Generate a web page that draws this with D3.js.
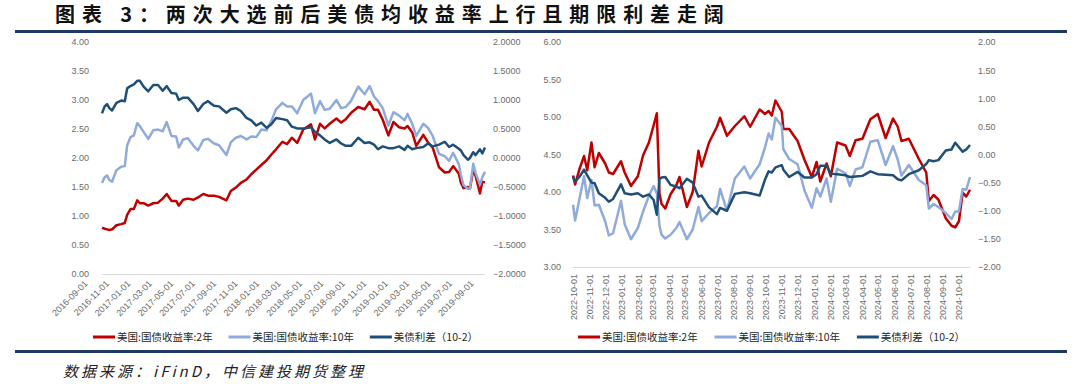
<!DOCTYPE html>
<html>
<head>
<meta charset="utf-8">
<script src="https://cdn.jsdelivr.net/npm/d3@7"></script>
<style>
  body { margin: 0; background: #fff; }
  svg { display: block; }
</style>
</head>
<body>
<script>
// ---- data ----
const seriesNames = ["美国:国债收益率:2年", "美国:国债收益率:10年", "美债利差（10-2）"];
const seriesColors = ["#C00000", "#8FAADC", "#1F4E79"];

// 2016 election window
const leftDates = [
  "2016-09-01","2016-09-09","2016-09-16","2016-09-23","2016-10-01","2016-10-14","2016-10-28","2016-11-08","2016-11-15","2016-11-25",
  "2016-12-05","2016-12-15","2016-12-23","2017-01-03","2017-01-17","2017-02-01","2017-02-15","2017-03-01","2017-03-13","2017-03-27",
  "2017-04-10","2017-04-18","2017-05-01","2017-05-15","2017-06-01","2017-06-14","2017-06-30","2017-07-14","2017-08-01","2017-08-16",
  "2017-09-07","2017-09-20","2017-10-05","2017-10-20","2017-11-06","2017-11-20","2017-12-05","2017-12-20","2018-01-05","2018-01-19",
  "2018-02-02","2018-02-21","2018-03-07","2018-03-21","2018-04-06","2018-04-24","2018-05-17","2018-05-29","2018-06-13","2018-06-27",
  "2018-07-12","2018-08-01","2018-08-15","2018-08-29","2018-09-14","2018-10-05","2018-10-24","2018-11-08","2018-11-21","2018-12-03",
  "2018-12-17","2019-01-03","2019-01-18","2019-02-04","2019-02-20","2019-03-01","2019-03-15","2019-03-27","2019-04-17","2019-05-01",
  "2019-05-15","2019-06-03","2019-06-20","2019-07-03","2019-07-15","2019-08-01","2019-08-07","2019-08-15","2019-08-28","2019-09-03",
  "2019-09-13","2019-09-20","2019-10-03","2019-10-10","2019-10-18"
];
const left2y = [
  0.80,0.78,0.77,0.76,0.77,0.84,0.86,0.88,1.02,1.12,
  1.12,1.27,1.22,1.22,1.18,1.22,1.23,1.30,1.38,1.26,
  1.26,1.18,1.28,1.30,1.28,1.32,1.38,1.35,1.35,1.33,
  1.27,1.43,1.49,1.57,1.63,1.72,1.80,1.88,1.96,2.06,
  2.15,2.28,2.24,2.35,2.26,2.49,2.58,2.32,2.59,2.51,
  2.59,2.68,2.61,2.67,2.78,2.88,2.84,2.97,2.83,2.83,
  2.66,2.39,2.62,2.53,2.51,2.55,2.44,2.21,2.40,2.27,
  2.18,1.84,1.75,1.76,1.86,1.73,1.58,1.48,1.50,1.47,
  1.80,1.69,1.39,1.59,1.58
];
const left10y = [
  1.57,1.67,1.70,1.62,1.59,1.79,1.85,1.86,2.22,2.36,
  2.39,2.60,2.55,2.45,2.33,2.48,2.49,2.46,2.62,2.38,
  2.37,2.18,2.32,2.34,2.21,2.13,2.31,2.33,2.25,2.22,
  2.05,2.27,2.35,2.38,2.32,2.37,2.36,2.49,2.48,2.64,
  2.84,2.95,2.89,2.89,2.77,3.00,3.11,2.77,2.98,2.83,
  2.85,3.00,2.86,2.88,2.99,3.23,3.10,3.24,3.06,2.98,
  2.86,2.56,2.79,2.73,2.65,2.76,2.59,2.38,2.59,2.52,
  2.38,2.07,2.03,1.95,2.09,1.89,1.71,1.53,1.47,1.47,
  1.90,1.74,1.54,1.67,1.76
];
const leftSpread = [
  0.77,0.89,0.93,0.86,0.82,0.95,0.99,0.98,1.20,1.24,
  1.27,1.33,1.33,1.23,1.15,1.26,1.26,1.16,1.24,1.12,
  1.11,1.00,1.04,1.04,0.93,0.81,0.93,0.98,0.90,0.89,
  0.78,0.84,0.86,0.81,0.69,0.65,0.56,0.61,0.52,0.58,
  0.69,0.67,0.65,0.54,0.51,0.51,0.53,0.45,0.39,0.32,
  0.26,0.32,0.25,0.21,0.21,0.35,0.26,0.27,0.23,0.15,
  0.20,0.17,0.17,0.20,0.14,0.21,0.15,0.17,0.19,0.25,
  0.20,0.23,0.28,0.19,0.23,0.16,0.13,0.05,-0.03,0.00,
  0.10,0.05,0.15,0.08,0.18
];
const leftTickLabels = [
  "2016-09-01","2016-11-01","2017-01-01","2017-03-01","2017-05-01","2017-07-01","2017-09-01",
  "2017-11-01","2018-01-01","2018-03-01","2018-05-01","2018-07-01","2018-09-01","2018-11-01",
  "2019-01-01","2019-03-01","2019-05-01","2019-07-01","2019-09-01"
];

// 2024 election window
const rightDates = [
  "2022-09-30","2022-10-04","2022-10-12","2022-10-21","2022-10-27","2022-11-04","2022-11-10","2022-11-18","2022-11-30","2022-12-07",
  "2022-12-15","2022-12-30","2023-01-06","2023-01-18","2023-01-31","2023-02-10","2023-02-21","2023-03-02","2023-03-08","2023-03-13",
  "2023-03-17","2023-03-24","2023-04-03","2023-04-14","2023-04-20","2023-05-04","2023-05-15","2023-05-26","2023-06-01","2023-06-15",
  "2023-06-30","2023-07-06","2023-07-19","2023-08-03","2023-08-21","2023-09-01","2023-09-19","2023-09-29","2023-10-06","2023-10-12",
  "2023-10-19","2023-10-31","2023-11-03","2023-11-14","2023-11-30","2023-12-13","2023-12-27","2024-01-05","2024-01-12","2024-01-24",
  "2024-02-01","2024-02-13","2024-02-29","2024-03-08","2024-03-19","2024-04-01","2024-04-16","2024-04-30","2024-05-15","2024-05-29",
  "2024-06-07","2024-06-14","2024-06-28","2024-07-17","2024-07-31","2024-08-05","2024-08-14","2024-08-23","2024-09-06","2024-09-17",
  "2024-09-24","2024-10-01","2024-10-08","2024-10-15","2024-10-22"
];
const right2y = [
  4.22,4.10,4.30,4.48,4.29,4.66,4.33,4.52,4.38,4.26,
  4.24,4.41,4.26,4.08,4.21,4.49,4.66,4.89,5.05,3.98,
  3.84,3.78,3.97,4.09,4.20,3.80,4.00,4.55,4.34,4.66,
  4.87,4.99,4.75,4.88,5.01,4.87,5.10,5.04,5.08,5.02,
  5.22,5.07,4.84,4.84,4.68,4.43,4.20,4.40,4.14,4.38,
  4.21,4.66,4.62,4.48,4.69,4.71,4.97,5.04,4.72,4.98,
  4.87,4.68,4.71,4.44,4.26,3.88,3.96,3.90,3.65,3.55,
  3.53,3.61,3.99,3.94,4.03
];
const right10y = [
  3.83,3.62,3.90,4.21,3.92,4.16,3.82,3.83,3.61,3.42,
  3.45,3.88,3.57,3.37,3.52,3.74,3.95,4.08,3.98,3.55,
  3.43,3.38,3.43,3.52,3.60,3.37,3.50,3.80,3.61,3.72,
  3.81,4.04,3.75,4.18,4.34,4.18,4.37,4.59,4.78,4.70,
  4.99,4.88,4.57,4.44,4.37,4.02,3.79,4.05,3.94,4.18,
  3.87,4.31,4.25,4.08,4.30,4.33,4.67,4.69,4.36,4.61,
  4.43,4.22,4.36,4.16,4.09,3.78,3.84,3.80,3.72,3.64,
  3.74,3.74,4.04,4.03,4.20
];
const rightSpread = [
  -0.39,-0.48,-0.40,-0.27,-0.37,-0.50,-0.51,-0.69,-0.77,-0.84,
  -0.79,-0.53,-0.69,-0.71,-0.69,-0.75,-0.71,-0.81,-1.07,-0.43,
  -0.41,-0.40,-0.54,-0.57,-0.60,-0.43,-0.50,-0.75,-0.73,-0.94,
  -1.06,-0.95,-1.00,-0.70,-0.67,-0.69,-0.73,-0.45,-0.30,-0.32,
  -0.23,-0.19,-0.27,-0.40,-0.31,-0.41,-0.41,-0.35,-0.20,-0.20,
  -0.34,-0.35,-0.37,-0.40,-0.39,-0.38,-0.30,-0.35,-0.36,-0.37,
  -0.44,-0.46,-0.35,-0.28,-0.17,-0.10,-0.12,-0.10,0.07,0.09,
  0.21,0.13,0.05,0.09,0.17
];
const rightTickLabels = [
  "2022-10-01","2022-11-01","2022-12-01","2023-01-01","2023-02-01","2023-03-01","2023-04-01","2023-05-01","2023-06-01",
  "2023-07-01","2023-08-01","2023-09-01","2023-10-01","2023-11-01","2023-12-01","2024-01-01","2024-02-01","2024-03-01",
  "2024-04-01","2024-05-01","2024-06-01","2024-07-01","2024-08-01","2024-09-01","2024-10-01"
];

const titleText = "图表 3：两次大选前后美债均收益率上行且期限利差走阔";
const sourceText = "数据来源：iFinD，中信建投期货整理";

// ---- drawing ----
const width = 1080, height = 384;
const parse = d3.timeParse("%Y-%m-%d");
const cjk = "'Noto Sans CJK SC', 'Noto Sans', sans-serif";
const latin = "'Liberation Sans', Arial, sans-serif";

const svg = d3.select("body").append("svg")
    .attr("width", width)
    .attr("height", height);

// title + rules
svg.append("text")
    .attr("x", 55).attr("y", 22)
    .attr("font-family", cjk).attr("font-weight", 700)
    .attr("font-size", 20).attr("letter-spacing", 6.9)
    .attr("fill", "#111")
    .text(titleText);

svg.append("line")
    .attr("x1", 15).attr("x2", 1067).attr("y1", 31.5).attr("y2", 31.5)
    .attr("stroke", "#1F3864").attr("stroke-width", 3);
svg.append("line")
    .attr("x1", 15).attr("x2", 1067).attr("y1", 351.5).attr("y2", 351.5)
    .attr("stroke", "#1F3864").attr("stroke-width", 3);

svg.append("text")
    .attr("x", 63).attr("y", 377)
    .attr("font-family", cjk).attr("font-style", "italic")
    .attr("font-size", 15).attr("letter-spacing", 3)
    .attr("fill", "#222")
    .text(sourceText);

function drawPanel(p) {
  const g = svg.append("g");
  const x = d3.scaleTime()
      .domain(d3.extent(p.dates, parse))
      .range([p.left, p.right]);
  const yL = d3.scaleLinear().domain(p.leftDomain).range([p.bottom, p.top]);
  const yR = d3.scaleLinear().domain(p.rightDomain).range([p.bottom, p.top]);

  // baseline
  g.append("line")
      .attr("x1", p.left).attr("x2", p.right)
      .attr("y1", p.bottom + 0.5).attr("y2", p.bottom + 0.5)
      .attr("stroke", "#d9d9d9");

  // y axes
  const axL = g.append("g")
      .attr("transform", `translate(${p.left},0)`)
      .call(d3.axisLeft(yL).ticks(p.leftTicks).tickSize(0).tickPadding(p.padL)
        .tickFormat(d3.format(".2f")));
  const axR = g.append("g")
      .attr("transform", `translate(${p.right},0)`)
      .call(d3.axisRight(yR).ticks(8).tickSize(0).tickPadding(p.padR)
        .tickFormat(d3.format(p.rightFmt)));
  [axL, axR].forEach(a => {
    a.select(".domain").remove();
    a.selectAll("text")
        .attr("font-family", latin).attr("font-size", 9)
        .attr("fill", "#6b6b6b");
  });

  // x labels
  if (p.diag) {
    const lx = d3.scalePoint().domain(p.ticks).range(p.labelRange);
    g.selectAll(".xl").data(p.ticks).enter().append("text")
        .attr("class", "xl")
        .attr("transform", d => `translate(${lx(d)},${p.bottom + 8}) rotate(-45)`)
        .attr("text-anchor", "end")
        .attr("dy", "0.35em")
        .attr("font-family", latin).attr("font-size", 9)
        .attr("fill", "#6b6b6b")
        .text(d => d);
  } else {
    g.selectAll(".xl").data(p.ticks).enter().append("text")
        .attr("class", "xl")
        .attr("transform", d => `translate(${x(parse(d))},${p.bottom + 7}) rotate(-90)`)
        .attr("text-anchor", "end")
        .attr("dy", "0.35em")
        .attr("font-family", latin).attr("font-size", 9)
        .attr("fill", "#6b6b6b")
        .text(d => d);
  }

  // lines
  const scales = [yL, yL, yR];
  p.series.forEach((vals, i) => {
    const pts = p.dates.map((d, j) => [parse(d), vals[j]]);
    const line = d3.line()
        .x(d => x(d[0]))
        .y(d => scales[i](d[1]));
    g.append("path")
        .datum(pts)
        .attr("fill", "none")
        .attr("stroke", seriesColors[i])
        .attr("stroke-width", 2.5)
        .attr("stroke-linejoin", "round")
        .attr("d", line);
  });

  // legend
  const lg = g.append("g").attr("transform", `translate(0,${p.legendY})`);
  const items = seriesNames.map((name, i) => {
    const it = lg.append("g");
    it.append("line")
        .attr("x1", 0).attr("x2", 22).attr("y1", 0).attr("y2", 0)
        .attr("stroke", seriesColors[i]).attr("stroke-width", 3);
    const t = it.append("text")
        .attr("x", 24).attr("dy", "0.35em")
        .attr("font-family", cjk).attr("font-size", 10.5)
        .attr("fill", "#262626")
        .text(name);
    return { it, w: 24 + t.node().getComputedTextLength() };
  });
  const total = d3.sum(items, d => d.w);
  const gap = (p.legendEnd - p.legendStart - total) / (items.length - 1);
  let cx = p.legendStart;
  items.forEach(d => {
    d.it.attr("transform", `translate(${cx},0)`);
    cx += d.w + gap;
  });
}

drawPanel({
  dates: leftDates, series: [left2y, left10y, leftSpread],
  left: 102, right: 485, top: 42, bottom: 274,
  leftDomain: [0, 4], rightDomain: [-2, 2], leftTicks: 8,
  padL: 13, padR: 8, rightFmt: ".4f",
  diag: true, ticks: leftTickLabels, labelRange: [86, 472],
  legendY: 337, legendStart: 93, legendEnd: 478
});

drawPanel({
  dates: rightDates, series: [right2y, right10y, rightSpread],
  left: 573, right: 970, top: 42, bottom: 267,
  leftDomain: [3, 6], rightDomain: [-2, 2], leftTicks: 6,
  padL: 12, padR: 8, rightFmt: ".2f",
  diag: false, ticks: rightTickLabels,
  legendY: 337, legendStart: 578, legendEnd: 965
});
</script>
</body>
</html>
